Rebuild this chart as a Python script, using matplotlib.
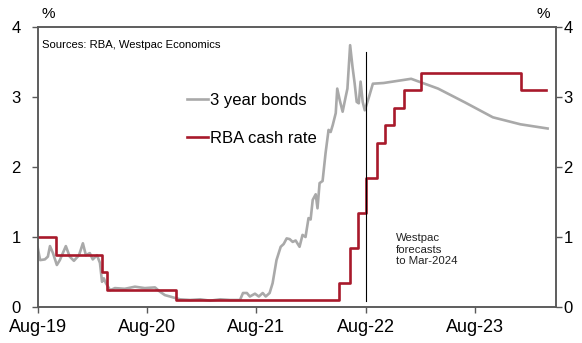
import matplotlib
matplotlib.use('Agg')
import matplotlib.pyplot as plt
import matplotlib.dates as mdates
import pandas as pd

# 3 year bond yield (actual to Aug-22, then Westpac forecasts)
bond_dates = [
    "2019-08-01", "2019-08-09", "2019-08-25", "2019-09-04", "2019-09-11", "2019-09-21",
    "2019-10-04", "2019-10-14", "2019-11-03", "2019-11-16", "2019-11-30", "2019-12-17",
    "2019-12-30", "2020-01-09", "2020-01-22", "2020-02-01", "2020-02-15", "2020-02-25",
    "2020-03-03", "2020-03-09", "2020-03-16", "2020-03-30", "2020-04-15", "2020-05-18",
    "2020-06-21", "2020-07-24", "2020-08-27", "2020-09-12", "2020-09-29", "2020-10-16",
    "2020-11-01", "2020-11-18", "2020-12-22", "2021-01-25", "2021-02-27", "2021-04-02",
    "2021-05-05", "2021-06-07", "2021-06-17", "2021-06-30", "2021-07-10", "2021-07-27",
    "2021-08-09", "2021-08-22", "2021-09-01", "2021-09-14", "2021-09-24", "2021-10-07",
    "2021-10-21", "2021-10-31", "2021-11-10", "2021-11-20", "2021-11-30", "2021-12-10",
    "2021-12-23", "2022-01-02", "2022-01-12", "2022-01-22", "2022-01-29", "2022-02-05",
    "2022-02-15", "2022-02-21", "2022-02-28", "2022-03-10", "2022-03-20", "2022-03-30",
    "2022-04-06", "2022-04-13", "2022-04-23", "2022-04-28", "2022-05-06", "2022-05-16",
    "2022-05-26", "2022-06-01", "2022-06-10", "2022-06-18", "2022-06-25", "2022-07-02",
    "2022-07-09", "2022-07-15", "2022-07-22", "2022-07-29", "2022-08-12", "2022-08-25",
    "2022-09-30", "2022-12-31", "2023-03-31", "2023-06-30", "2023-09-30", "2023-12-31",
    "2024-03-31",
]
bond_values = [
    0.85, 0.67, 0.68, 0.72, 0.87, 0.77,
    0.60, 0.67, 0.87, 0.72, 0.66, 0.74,
    0.91, 0.74, 0.77, 0.68, 0.74, 0.63,
    0.36, 0.41, 0.34, 0.24, 0.27, 0.26,
    0.29, 0.27, 0.28, 0.22, 0.17, 0.15,
    0.13, 0.11, 0.10, 0.11, 0.09, 0.11,
    0.10, 0.10, 0.20, 0.20, 0.15, 0.19,
    0.15, 0.20, 0.15, 0.20, 0.34, 0.67,
    0.86, 0.90, 0.98, 0.97, 0.93, 0.95,
    0.86, 1.03, 1.00, 1.27, 1.25, 1.53,
    1.61, 1.41, 1.77, 1.80, 2.20, 2.53,
    2.50, 2.60, 2.77, 3.12, 2.96, 2.79,
    3.00, 3.12, 3.74, 3.43, 3.20, 2.93,
    2.91, 3.22, 2.93, 2.81, 3.00, 3.19,
    3.20, 3.26, 3.12, 2.92, 2.71, 2.61,
    2.55,
]

# RBA cash rate (step changes)
cash_dates = [
    "2019-08-01", "2019-10-02", "2020-03-04", "2020-03-20", "2020-11-04",
    "2022-05-04", "2022-06-08", "2022-07-06", "2022-08-03", "2022-09-07",
    "2022-10-05", "2022-11-02", "2022-12-07", "2023-02-01", "2024-01-01",
    "2024-03-25",
]
cash_values = [
    1.00, 0.75, 0.50, 0.25, 0.10,
    0.35, 0.85, 1.35, 1.85, 2.35,
    2.60, 2.85, 3.10, 3.35, 3.10,
    3.10,
]

forecast_start = "2022-08-01"
xtick_dates = ["2019-08-01", "2020-08-01", "2021-08-01", "2022-08-01", "2023-08-01"]
xtick_labels = ["Aug-19", "Aug-20", "Aug-21", "Aug-22", "Aug-23"]
yticks = [0, 1, 2, 3, 4]
x_start, x_end = "2019-08-01", "2024-04-28"

plt.rcParams['font.family'] = ['Liberation Sans', 'DejaVu Sans']

W, H = 582, 343
fig = plt.figure(figsize=(W / 100, H / 100), dpi=100)
L, R, T, B = 37.7, 556, 27, 307
ax = fig.add_axes([L / W, 1 - B / H, (R - L) / W, (B - T) / H])

spine_col = '#595959'
gray = '#A9A9A9'
red = '#A8192B'

ax.plot(pd.to_datetime(bond_dates), bond_values, color=gray, lw=1.9,
        label='3 year bonds', zorder=2, solid_joinstyle='round')
ax.plot(pd.to_datetime(cash_dates), cash_values, color=red, lw=1.9,
        drawstyle='steps-post', label='RBA cash rate', zorder=3)

ax.axvline(pd.Timestamp(forecast_start), ymin=0.02, ymax=0.91, color='black', lw=0.8, zorder=4)

ax.set_xlim(pd.Timestamp(x_start), pd.Timestamp(x_end))
ax.set_ylim(0, 4)
ax.set_xticks(pd.to_datetime(xtick_dates))
ax.set_xticklabels(xtick_labels)
ax.set_yticks(yticks)
ax.set_yticklabels([str(v) for v in yticks])

for s in ax.spines.values():
    s.set_color(spine_col)
    s.set_linewidth(1.1)

ax.tick_params(axis='x', direction='out', length=4.3, width=1.0, color=spine_col,
               labelsize=13, pad=4, labelcolor='black')
ax.tick_params(axis='y', direction='out', length=4.3, width=1.0, color=spine_col,
               labelsize=12, pad=8, labelcolor='black')

ax2 = ax.twinx()
ax2.set_ylim(0, 4)
ax2.set_yticks(yticks)
ax2.set_yticklabels([str(v) for v in yticks])
ax2.tick_params(axis='y', direction='out', length=4.3, width=1.0, color=spine_col,
                labelsize=12, pad=1, labelcolor='black')
for s in ax2.spines.values():
    s.set_color(spine_col)
    s.set_linewidth(1.1)

leg = ax.legend(loc='upper left', bbox_to_anchor=(187 / W, 1 - 93 / H),
                bbox_transform=fig.transFigure, frameon=False, fontsize=12,
                handlelength=1.25, handletextpad=0.1, labelspacing=1.35,
                borderpad=0, borderaxespad=0)
for t in leg.get_texts():
    t.set_color('black')

fig.text(42 / W, 1 - 45 / H, "Sources: RBA, Westpac Economics", fontsize=8.1,
         ha='left', va='center', color='black')
fig.text(396 / W, 1 - 233 / H, "Westpac\nforecasts\nto Mar-2024", fontsize=8.2,
         ha='left', va='top', linespacing=1.2, color='#222222')
fig.text(41 / W, 1 - 14 / H, "%", fontsize=11, ha='left', va='center')
fig.text(550 / W, 1 - 14 / H, "%", fontsize=11, ha='right', va='center')

fig.savefig('out.png', dpi=100)
